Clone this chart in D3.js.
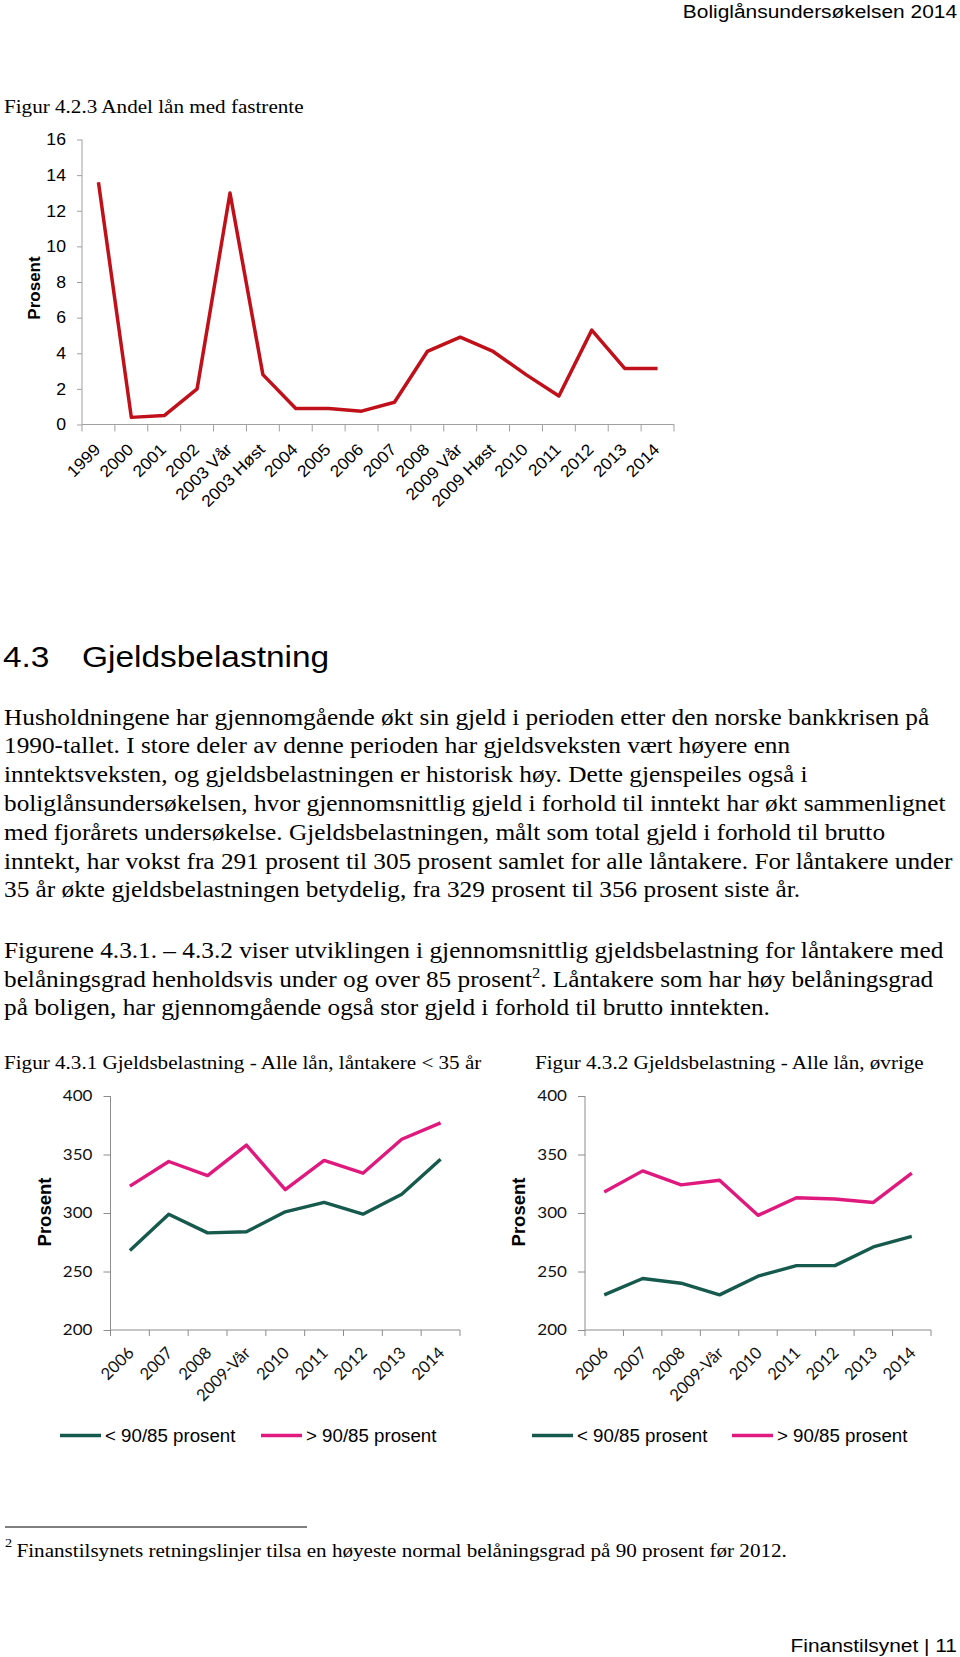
<!DOCTYPE html>
<html><head><meta charset="utf-8">
<script src="https://cdn.jsdelivr.net/npm/d3@7"></script>
<style>body{margin:0;background:#fff}svg{display:block}</style>
</head><body>
<svg id="page" width="960" height="1657"></svg>
<script>
// ---------- DATA ----------
const topCategories = ["1999","2000","2001","2002","2003 Vår","2003 Høst","2004","2005","2006","2007","2008","2009 Vår","2009 Høst","2010","2011","2012","2013","2014"];
const topValues = [13.6, 0.4, 0.5, 2.0, 13.0, 2.8, 0.9, 0.9, 0.75, 1.25, 4.1, 4.9, 4.1, 2.8, 1.6, 5.3, 3.15, 3.15];
const topTicks = [0, 2, 4, 6, 8, 10, 12, 14, 16];

const lowCategories = ["2006","2007","2008","2009-Vår","2010","2011","2012","2013","2014"];
const seriesNames = ["< 90/85 prosent", "> 90/85 prosent"];
const under35Low  = [268, 299, 283, 284, 301, 309, 299, 316, 346];
const under35High = [323, 344, 332, 358, 320, 345, 334, 363, 377];
const otherLow    = [230, 244, 240, 230, 246, 255, 255, 271, 280];
const otherHigh   = [318, 336, 324, 328, 298, 313, 312, 309, 334];
const lowTicks = [200, 250, 300, 350, 400];

// ---------- HELPERS ----------
const svg = d3.select("#page");
svg.append("rect").attr("width", 960).attr("height", 1657).attr("fill", "#fff");
const SERIF = "'Liberation Serif','Times New Roman',serif";
const SANS = "'Liberation Sans',Arial,sans-serif";
const SX = 1.1;

function txt(parent, str, x, y, o = {}) {
  const t = parent.append("text")
    .attr("transform", `translate(${x},${y}) scale(${o.sx || SX},1)`)
    .attr("font-family", o.family || SERIF)
    .attr("font-size", o.size || 23)
    .attr("font-weight", o.weight || "normal")
    .attr("fill", o.fill || "#000")
    .attr("text-anchor", o.anchor || "start");
  t.text(str);
  return t;
}

// ---------- PAGE TEXT ----------
txt(svg, "Boliglånsundersøkelsen 2014", 957, 18, {family: SANS, size: 19, anchor: "end"});
txt(svg, "Figur 4.2.3 Andel lån med fastrente", 4, 113, {size: 19.2});

txt(svg, "4.3", 3, 667, {family: SANS, size: 30.4});
txt(svg, "Gjeldsbelastning", 82, 667, {family: SANS, size: 30.4});

const para1 = [
  "Husholdningene har gjennomgående økt sin gjeld i perioden etter den norske bankkrisen på",
  "1990-tallet. I store deler av denne perioden har gjeldsveksten vært høyere enn",
  "inntektsveksten, og gjeldsbelastningen er historisk høy. Dette gjenspeiles også i",
  "boliglånsundersøkelsen, hvor gjennomsnittlig gjeld i forhold til inntekt har økt sammenlignet",
  "med fjorårets undersøkelse. Gjeldsbelastningen, målt som total gjeld i forhold til brutto",
  "inntekt, har vokst fra 291 prosent til 305 prosent samlet for alle låntakere. For låntakere under",
  "35 år økte gjeldsbelastningen betydelig, fra 329 prosent til 356 prosent siste år."
];
para1.forEach((s, i) => txt(svg, s, 4, 724.5 + i * 28.8));

txt(svg, "Figurene 4.3.1. – 4.3.2 viser utviklingen i gjennomsnittlig gjeldsbelastning for låntakere med", 4, 958);
const l2 = txt(svg, "", 4, 986.5);
l2.append("tspan").text("belåningsgrad henholdsvis under og over 85 prosent");
l2.append("tspan").attr("font-size", 15).attr("dy", -9).text("2");
l2.append("tspan").attr("dy", 9).text(". Låntakere som har høy belåningsgrad");
txt(svg, "på boligen, har gjennomgående også stor gjeld i forhold til brutto inntekten.", 4, 1015);

txt(svg, "Figur 4.3.1 Gjeldsbelastning - Alle lån, låntakere < 35 år", 4, 1069, {size: 19.2});
txt(svg, "Figur 4.3.2 Gjeldsbelastning - Alle lån, øvrige", 535, 1069, {size: 19.2});

// footnote
svg.append("line").attr("x1", 5).attr("x2", 307).attr("y1", 1527).attr("y2", 1527).attr("stroke", "#000").attr("stroke-width", 1);
txt(svg, "2", 5, 1547, {size: 13});
txt(svg, "Finanstilsynets retningslinjer tilsa en høyeste normal belåningsgrad på 90 prosent før 2012.", 16.5, 1556.5, {size: 19.2});
txt(svg, "Finanstilsynet | 11", 957, 1652, {family: SANS, size: 19, anchor: "end"});

// ---------- TOP CHART ----------
(function () {
  const g = svg.append("g");
  const x = d3.scaleBand().domain(topCategories).range([82, 674]);
  const y = d3.scaleLinear().domain([0, 16]).range([424.5, 139.5]);
  const axisCol = "#a0a0a0";
  const yAx = g.append("g").attr("transform", "translate(82,0)")
    .call(d3.axisLeft(y).tickValues(topTicks).tickSize(5).tickPadding(10).tickFormat(d3.format("d")));
  yAx.select(".domain").attr("stroke", axisCol).attr("d", `M0,${y(16)}V${y(0)}`);
  yAx.selectAll(".tick line").attr("stroke", axisCol);
  yAx.selectAll(".tick text").attr("font-family", SANS).attr("font-size", 16.5).attr("fill", "#000")
    .attr("transform", "scale(1.07,1)");
  // x axis
  g.append("line").attr("x1", x.range()[0]).attr("x2", x.range()[1])
    .attr("y1", y(0)).attr("y2", y(0)).attr("stroke", axisCol);
  const bounds = topCategories.map(c => x(c)).concat([x.range()[1]]);
  g.selectAll("line.xt").data(bounds).join("line").attr("class", "xt")
    .attr("x1", d => d).attr("x2", d => d).attr("y1", y(0)).attr("y2", y(0) + 7).attr("stroke", axisCol);
  g.selectAll("text.xl").data(topCategories).join("text").attr("class", "xl")
    .attr("transform", d => `translate(${x(d) + x.bandwidth() / 2 + 3},${y(0) + 26}) rotate(-45) scale(1.07,1)`)
    .attr("text-anchor", "end").attr("font-family", SANS).attr("font-size", 16.5).text(d => d);
  // label
  g.append("text").attr("transform", `translate(40,288) rotate(-90)`).attr("text-anchor", "middle")
    .attr("font-family", SANS).attr("font-weight", "bold").attr("font-size", 17).text("Prosent");
  // line
  const line = d3.line().x((d, i) => x(topCategories[i]) + x.bandwidth() / 2).y(d => y(d));
  g.append("path").datum(topValues).attr("d", line).attr("fill", "none")
    .attr("stroke", "#c0101a").attr("stroke-width", 3.5).attr("stroke-linejoin", "round");
})();

// ---------- LOWER CHARTS ----------
const colLow = "#16594d", colHigh = "#e0197f";
function lowChart(x0, x1, labelX, lowVals, highVals, legend) {
  const g = svg.append("g");
  const x = d3.scaleBand().domain(lowCategories).range([x0, x1]);
  const y = d3.scaleLinear().domain([200, 400]).range([1330, 1096]);
  const axisCol = "#8c8c8c";
  const yAx = g.append("g").attr("transform", `translate(${x0},0)`)
    .call(d3.axisLeft(y).tickValues(lowTicks).tickSize(7).tickPadding(11));
  yAx.select(".domain").attr("stroke", axisCol).attr("d", `M0,${y(400)}V${y(200)}`);
  yAx.selectAll(".tick line").attr("stroke", axisCol);
  yAx.selectAll(".tick text").attr("font-family", "Lato, 'Open Sans', sans-serif").attr("font-size", 15.5)
    .attr("fill", "#111").attr("transform", "scale(1.1,1)").attr("x", -18 / 1.1);
  g.append("line").attr("x1", x0).attr("x2", x1).attr("y1", y(200)).attr("y2", y(200)).attr("stroke", axisCol);
  const bounds = lowCategories.map(c => x(c)).concat([x1]);
  g.selectAll("line.xt").data(bounds).join("line").attr("class", "xt")
    .attr("x1", d => d).attr("x2", d => d).attr("y1", y(200)).attr("y2", y(200) + 6).attr("stroke", axisCol);
  g.selectAll("text.xl").data(lowCategories).join("text").attr("class", "xl")
    .attr("transform", d => `translate(${x(d) + x.bandwidth() / 2 + 5},${y(200) + 24}) rotate(-45)`)
    .attr("text-anchor", "end").attr("font-family", "Lato, 'Open Sans', sans-serif").attr("font-size", 16.5)
    .attr("fill", "#111").text(d => d);
  g.append("text").attr("transform", `translate(${labelX},1212) rotate(-90)`).attr("text-anchor", "middle")
    .attr("font-family", SANS).attr("font-weight", "bold").attr("font-size", 18.5).text("Prosent");
  const line = d3.line().x((d, i) => x(lowCategories[i]) + x.bandwidth() / 2).y(d => y(d));
  [[lowVals, colLow], [highVals, colHigh]].forEach(([vals, c]) => {
    g.append("path").datum(vals).attr("d", line).attr("fill", "none")
      .attr("stroke", c).attr("stroke-width", 3.4).attr("stroke-linejoin", "round");
  });
  // legend
  const ly = 1435.5;
  [[legend[0], colLow, seriesNames[0]], [legend[1], colHigh, seriesNames[1]]].forEach(([lx, c, name]) => {
    g.append("line").attr("x1", lx).attr("x2", lx + 41).attr("y1", ly).attr("y2", ly)
      .attr("stroke", c).attr("stroke-width", 3.4);
    g.append("text").attr("x", lx + 45).attr("y", ly + 6.5).attr("font-family", SANS)
      .attr("font-size", 18.7).text(name);
  });
}
lowChart(110.5, 460, 51, under35Low, under35High, [60, 261]);
lowChart(585, 931, 525, otherLow, otherHigh, [532, 732]);
</script>
</body></html>
